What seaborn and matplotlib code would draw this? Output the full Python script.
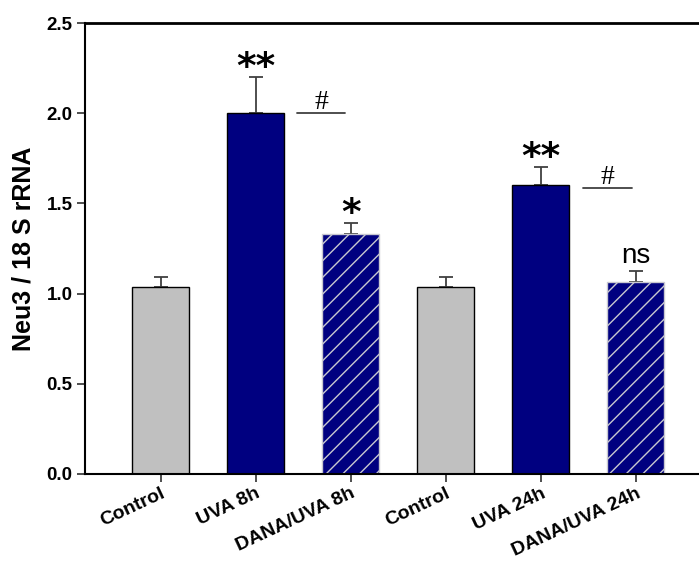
import matplotlib
matplotlib.use("Agg")
import matplotlib.pyplot as plt
import seaborn as sns
import numpy as np
import pandas as pd

# Neu3 expression relative to 18 S rRNA
groups = ["Control", "UVA 8h", "DANA/UVA 8h", "Control", "UVA 24h", "DANA/UVA 24h"]
means = [1.035, 2.00, 1.33, 1.035, 1.60, 1.065]
sems = [0.055, 0.20, 0.06, 0.055, 0.10, 0.06]
stars = ["", "**", "*", "", "**", "ns"]
hatched = [False, False, True, False, False, True]
fills = ["#C0C0C0", "#000080", "#000080", "#C0C0C0", "#000080", "#000080"]

# "#" comparisons: (x start, x end, y level)
hash_marks = [(1.43, 1.94, 2.00), (4.44, 4.96, 1.585)]

sns.set_theme(style="white")
plt.rcParams["font.family"] = ["Liberation Sans", "DejaVu Sans"]
plt.rcParams["hatch.linewidth"] = 1.0
plt.rcParams["text.color"] = "black"
plt.rcParams["axes.labelcolor"] = "black"
plt.rcParams["xtick.labelcolor"] = "black"
plt.rcParams["ytick.labelcolor"] = "black"

df = pd.DataFrame({"pos": np.arange(len(groups)), "value": means})

fig = plt.figure(figsize=(6.99, 5.64), dpi=100)
ax = fig.add_axes([85 / 699, 90 / 564, 1 - 85 / 699 + 0.002, (474 - 23) / 564])

sns.barplot(data=df, x="pos", y="value", hue="pos", palette=fills, legend=False,
            width=0.6, errorbar=None, saturation=1, ax=ax, zorder=2)

for patch, h in zip(ax.patches, hatched):
    if h:
        patch.set_hatch("//")
        patch.set_edgecolor("#C8C8D0")
        patch.set_linewidth(1.0)
    else:
        patch.set_edgecolor("black")
        patch.set_linewidth(1.0)

x = np.arange(len(groups))
ax.errorbar(x, means, yerr=[np.zeros(len(sems)), sems], fmt="none",
            ecolor="#404040", elinewidth=1.3, capsize=4.7, capthick=1.3, zorder=1)

for xi, m, s, lab in zip(x, means, sems, stars):
    if not lab:
        continue
    if lab == "ns":
        ax.text(xi, m + s + 0.01, lab, ha="center", va="bottom", fontsize=20,
                color="black")
    else:
        ax.text(xi, m + s - 0.05, lab, ha="center", va="bottom", fontsize=27,
                fontweight="bold", color="black", family="DejaVu Sans")

for x0, x1, yy in hash_marks:
    ax.plot([x0, x1], [yy, yy], color="#404040", lw=1.3)
    ax.text((x0 + x1) / 2, yy - 0.01, "#", ha="center", va="bottom",
            fontsize=20, color="black", family="Liberation Serif")

ax.set_xlim(-0.8, 5.68)
ax.set_ylim(0, 2.5)
ax.set_yticks([0, 0.5, 1.0, 1.5, 2.0, 2.5])
ax.set_yticklabels(["0.0", "0.5", "1.0", "1.5", "2.0", "2.5"],
                   fontsize=13.5, fontweight="bold", color="black")
ax.set_xticks(x)
ax.set_xticklabels(groups, rotation=25, ha="right", rotation_mode="anchor",
                   fontsize=14, fontweight="bold", color="black")
ax.set_xlabel("")
ax.set_ylabel("Neu3 / 18 S rRNA", fontsize=18, fontweight="bold", labelpad=8,
              color="black")

ax.tick_params(axis="both", which="major", direction="out", length=6,
               width=1.2, color="#303030", bottom=True, left=True, pad=3)
ax.tick_params(axis="x", pad=2)

for side in ["left", "bottom", "top"]:
    ax.spines[side].set_color("black")
    ax.spines[side].set_linewidth(1.5)
ax.spines["top"].set_linewidth(2.0)
ax.spines["right"].set_visible(False)

fig.savefig("out.png", dpi=100)
